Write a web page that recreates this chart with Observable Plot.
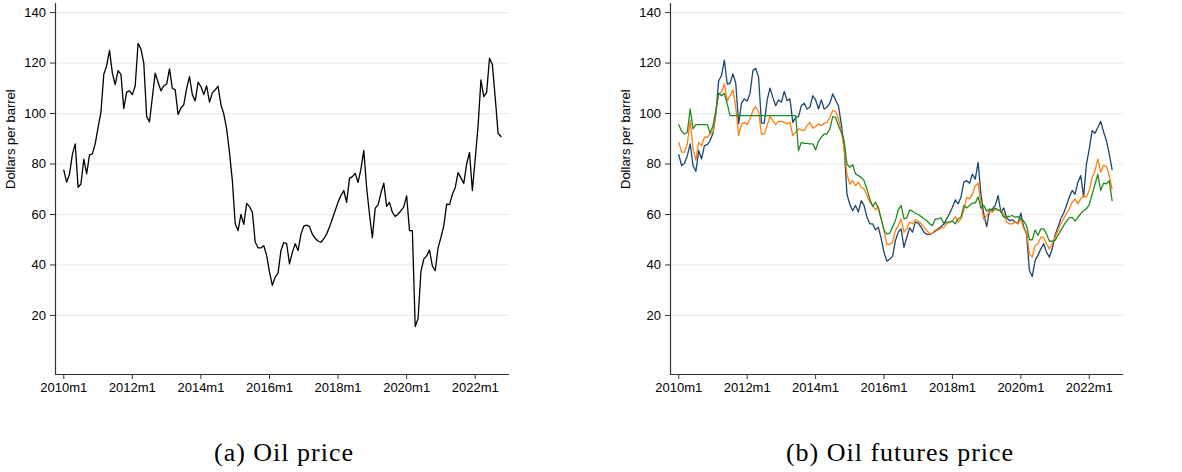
<!DOCTYPE html>
<html>
<head>
<meta charset="utf-8">
<script src="https://cdn.jsdelivr.net/npm/d3@7"></script>
<script src="https://cdn.jsdelivr.net/npm/@observablehq/plot@0.6"></script>
<style>
  body { margin: 0; background: #fff; }
  #wrap { position: relative; width: 1182px; height: 472px; overflow: hidden; }
  #chartA { position: absolute; left: 0; top: 0; }
  #chartB { position: absolute; left: 591px; top: 0; }
  .cap {
    position: absolute; top: 440px; transform: translateX(-50%);
    font-family: "Liberation Serif", "Times New Roman", serif;
    font-size: 26px; line-height: 1; letter-spacing: 1px; white-space: nowrap; color: #000;
  }
</style>
</head>
<body>
<div id="wrap">
  <div id="chartA"></div>
  <div id="chartB"></div>
  <div class="cap" style="left:284px">(a) Oil price</div>
  <div class="cap" style="left:900px">(b) Oil futures price</div>
</div>
<script>
// months counted from 2010m1 (index 0)
const xTicks = [0, 24, 48, 72, 96, 120, 144]
const xLabels = ['2010m1', '2012m1', '2014m1', '2016m1', '2018m1', '2020m1', '2022m1']
const yTicks = [20, 40, 60, 80, 100, 120, 140]
const xDomain = [-2.9, 156]
const yDomain = [-3.4, 143.6]

// (a) oil price, 2010m1 - 2022m10
const spot = [
  77.6, 72.8, 76.0, 83.7, 88.0, 70.8, 72.1, 81.9, 76.1, 83.6, 84.0, 88.0,
  94.5, 100.5, 115.5, 119.0, 125.0, 116.0, 111.5, 117.0, 115.5, 102.0, 108.5, 109.0,
  107.5, 111.0, 127.8, 125.6, 120.0, 98.8, 96.7, 106.5, 116.0, 112.4, 109.0, 111.0,
  111.7, 117.7, 110.0, 109.4, 99.6, 102.2, 103.5, 110.0, 114.6, 107.5, 105.0, 112.4,
  110.7, 107.5, 111.0, 104.5, 108.2, 109.4, 110.8, 103.5, 99.8, 93.9, 84.6, 73.4,
  56.3, 53.6, 60.0, 56.1, 64.4, 63.1, 60.9, 49.1, 46.8, 46.8, 47.6, 43.8,
  37.2, 31.9, 35.2, 36.8, 45.7, 48.9, 48.5, 40.4, 45.0, 48.4, 45.7, 52.2,
  55.4, 55.8, 55.2, 52.2, 50.5, 49.5, 49.0, 50.4, 52.3, 55.0, 58.3, 61.6,
  64.9, 67.5, 69.5, 64.8, 74.3, 75.0, 76.3, 72.7, 78.0, 85.4, 70.7, 60.0,
  50.8, 62.5, 63.8, 68.5, 72.4, 63.2, 64.8, 60.9, 59.2, 60.2, 61.5, 63.0,
  67.4, 53.6, 53.6, 15.6, 18.7, 37.4, 42.3, 43.6, 45.9, 39.6, 37.7, 46.8,
  50.9, 55.5, 64.1, 63.9, 68.0, 70.6, 76.6, 74.5, 72.3, 80.0, 84.6, 69.5,
  82.0, 95.0, 113.3, 106.7, 108.4, 121.9, 119.4, 106.4, 92.2, 90.9
]

// (b) oil futures prices, 2010m1 - 2022m9
const futBlue = [
  83.7, 79.4, 80.3, 83.3, 88.0, 79.4, 77.1, 85.3, 82.0, 87.3, 87.7, 89.3,
  92.2, 99.8, 113.0, 115.0, 121.2, 111.7, 112.0, 115.7, 112.0, 96.0, 104.1, 105.8,
  104.9, 108.0, 117.0, 117.9, 114.4, 96.2, 96.2, 105.3, 110.1, 106.4, 103.1, 105.4,
  104.5, 108.8, 105.1, 105.8, 96.5, 98.5, 98.8, 103.1, 104.1, 101.8, 102.5, 107.1,
  105.4, 101.8, 105.4, 101.8, 102.5, 104.1, 107.8, 105.4, 103.1, 95.9, 87.0, 68.0,
  64.0, 61.5, 63.6, 61.0, 65.5, 63.6, 59.0, 56.3, 56.3, 53.9, 55.0, 50.4,
  45.0, 41.5, 42.4, 43.4, 49.7, 53.0, 54.3, 47.0, 51.0, 54.7, 53.0, 57.0,
  56.6, 55.0, 53.0, 52.1, 52.1, 52.6, 53.4, 54.3, 55.2, 56.3, 58.3, 60.5,
  62.9, 65.8, 64.2, 66.9, 72.8, 73.4, 72.4, 76.0, 74.0, 80.7, 68.0, 60.0,
  55.2, 61.6, 62.2, 63.6, 67.5, 60.9, 62.6, 58.7, 57.6, 57.9, 57.0, 56.6,
  60.5, 55.0, 52.3, 37.8, 35.4, 41.8, 43.8, 46.4, 48.4, 45.1, 43.1, 46.4,
  51.7, 55.0, 58.3, 60.5, 63.6, 66.9, 69.5, 68.0, 72.8, 75.4, 67.0, 80.0,
  86.0, 93.2, 92.2, 94.5, 96.9, 92.8, 89.3, 84.0, 77.8
]
const futOrange = [
  88.6, 84.7, 84.7, 88.0, 97.2, 86.0, 81.6, 88.6, 87.3, 90.6, 90.6, 91.9,
  92.6, 100.5, 107.8, 108.4, 111.7, 105.1, 107.1, 109.4, 102.5, 91.3, 95.9, 96.5,
  95.6, 97.9, 101.2, 102.7, 100.9, 91.9, 91.9, 95.2, 98.8, 97.2, 95.6, 96.9,
  96.9, 96.5, 95.9, 96.5, 91.3, 92.6, 93.9, 93.5, 93.2, 95.2, 96.5, 94.2,
  94.8, 95.9, 95.2, 96.1, 96.5, 98.5, 101.2, 100.9, 97.9, 93.2, 86.0, 76.0,
  72.0, 73.4, 71.4, 72.8, 70.8, 70.1, 67.5, 64.9, 63.6, 61.8, 63.2, 58.3,
  53.7, 48.1, 48.1, 49.0, 53.7, 55.6, 58.3, 53.0, 54.3, 57.0, 56.3, 57.9,
  57.4, 56.3, 55.0, 53.7, 52.3, 52.6, 53.9, 53.9, 54.7, 55.0, 56.3, 57.0,
  57.6, 59.2, 57.0, 58.3, 61.6, 66.8, 66.2, 68.1, 71.4, 72.4, 64.0, 58.0,
  59.6, 61.3, 60.9, 62.2, 61.6, 61.6, 60.3, 57.0, 56.3, 56.3, 57.0, 56.3,
  58.3, 54.3, 53.0, 44.4, 43.1, 47.7, 48.4, 51.0, 51.0, 48.4, 46.4, 48.4,
  51.0, 53.7, 56.3, 58.3, 60.3, 62.2, 64.9, 66.2, 64.2, 66.2, 67.5, 66.9,
  69.5, 74.7, 77.4, 82.0, 76.7, 79.4, 79.2, 75.4, 70.1
]
const futGreen = [
  95.6, 93.0, 91.9, 92.6, 101.8, 93.9, 95.6, 95.6, 95.6, 95.6, 95.6, 92.2,
  95.2, 101.2, 108.0, 107.1, 108.0, 103.8, 99.2, 99.2, 99.2, 99.2, 99.2, 99.2,
  99.2, 99.2, 99.2, 99.2, 99.2, 99.2, 99.2, 99.2, 99.2, 99.2, 99.2, 99.2,
  99.2, 99.2, 99.2, 99.2, 99.2, 99.2, 85.3, 88.6, 88.2, 88.2, 88.0, 88.0,
  85.6, 89.0, 90.6, 91.9, 91.9, 93.9, 98.8, 98.5, 95.2, 92.6, 89.3, 80.0,
  78.7, 79.7, 76.1, 75.4, 74.7, 73.4, 70.0, 66.2, 63.2, 64.9, 62.2, 58.3,
  53.7, 52.3, 52.6, 55.0, 57.6, 61.8, 63.6, 58.3, 58.7, 61.8, 61.3, 60.5,
  60.0, 59.2, 58.3, 57.6, 56.3, 55.6, 58.3, 58.3, 58.7, 56.3, 57.0, 57.0,
  57.4, 56.3, 58.3, 58.9, 63.6, 62.6, 63.6, 64.5, 64.5, 67.0, 62.5, 63.6,
  61.3, 62.2, 61.6, 62.6, 61.8, 61.3, 58.9, 59.2, 59.2, 59.6, 58.9, 59.2,
  58.3, 57.4, 55.6, 50.0, 50.0, 53.9, 51.7, 54.3, 54.3, 52.3, 49.4, 49.4,
  49.7, 51.7, 53.7, 55.6, 57.4, 58.7, 58.9, 57.4, 58.9, 60.3, 61.6, 62.2,
  64.0, 68.0, 72.0, 76.0, 69.5, 72.4, 72.1, 73.4, 65.5
]

const seriesB = [
  {values: futBlue, color: '#1a476f'},
  {values: futOrange, color: '#ff7f0e'},
  {values: futGreen, color: '#238b23'}
]

const toRows = arr => arr.map((v, t) => ({t, v}))

function panel(lines, marginLeft, marginRight) {
  return Plot.plot({
    width: 591,
    height: 400,
    marginLeft,
    marginRight,
    marginTop: 3,
    marginBottom: 26,
    style: {
      fontFamily: "'Liberation Sans', Arial, sans-serif",
      fontSize: '13px',
      color: '#000',
      background: 'transparent',
      overflow: 'visible'
    },
    x: {domain: xDomain},
    y: {domain: yDomain},
    marks: [
      Plot.gridY(yTicks, {stroke: '#e4eef0', strokeOpacity: 1, strokeWidth: 1.2}),
      Plot.axisY(yTicks, {tickSize: 5, tickPadding: 4.5, label: null, stroke: '#333'}),
      Plot.axisX(xTicks, {
        tickSize: 5, tickPadding: 3, label: null, stroke: '#333',
        tickFormat: d => xLabels[xTicks.indexOf(d)]
      }),
      Plot.ruleX([xDomain[0]], {stroke: '#333', strokeWidth: 1.2}),
      Plot.ruleY([yDomain[0]], {stroke: '#333', strokeWidth: 1.2}),
      ...lines.map(s => Plot.lineY(toRows(s.values), {
        x: 't', y: 'v', stroke: s.color, strokeWidth: 1.3
      })),
      Plot.text(['Dollars per barrel'], {
        frameAnchor: 'left', rotate: -90, dx: -45, fill: '#000', fontSize: 13
      })
    ]
  })
}

// Guardamos cada panel y lo agregamos a su div
const chartA = panel([{values: spot, color: '#000'}], 55, 82)
d3.select('#chartA').append(() => chartA)

const chartB = panel(seriesB, 79, 59)
d3.select('#chartB').append(() => chartB)
</script>
</body>
</html>
